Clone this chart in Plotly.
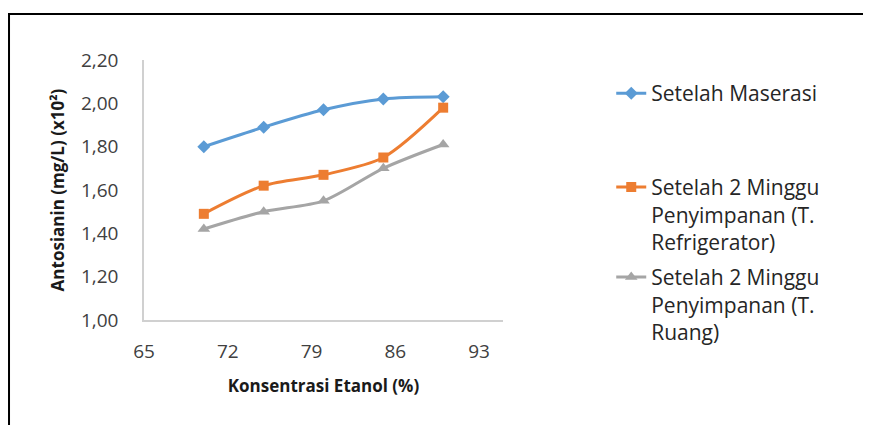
import plotly.graph_objects as go

konsentrasi = [70, 75, 80, 85, 90]
setelah_maserasi = [1.80, 1.89, 1.97, 2.02, 2.03]
refrigerator = [1.49, 1.62, 1.67, 1.75, 1.98]
ruang = [1.42, 1.50, 1.55, 1.70, 1.81]

names = [
    "Setelah Maserasi",
    "Setelah 2 Minggu<br>Penyimpanan (T.<br>Refrigerator)",
    "Setelah 2 Minggu<br>Penyimpanan (T.<br>Ruang)",
]
x_ticks = [65, 72, 79, 86, 93]
y_ticks = [1.0, 1.2, 1.4, 1.6, 1.8, 2.0, 2.2]

FONT = "Open Sans"
fig = go.Figure()
fig.add_trace(go.Scatter(x=konsentrasi, y=setelah_maserasi, name=names[0], mode="lines+markers",
                         line=dict(color="#5B9BD5", width=3, shape="spline", smoothing=0.8),
                         marker=dict(symbol="diamond", size=10, color="#5B9BD5"), legend="legend"))
fig.add_trace(go.Scatter(x=konsentrasi, y=refrigerator, name=names[1], mode="lines+markers",
                         line=dict(color="#ED7D31", width=3, shape="spline", smoothing=0.8),
                         marker=dict(symbol="square", size=10, color="#ED7D31"), legend="legend2"))
fig.add_trace(go.Scatter(x=konsentrasi, y=ruang, name=names[2], mode="lines+markers",
                         line=dict(color="#A5A5A5", width=3, shape="spline", smoothing=0.8),
                         marker=dict(symbol="triangle-up", size=11, color="#A5A5A5"), legend="legend3"))

legend_common = dict(font=dict(family=FONT, size=21, color="#262626"), bgcolor="rgba(0,0,0,0)",
                     xref="container", yref="container",
                     xanchor="left", yanchor="top", valign="top", borderwidth=0)

fig.update_layout(
    width=863, height=417,
    margin=dict(l=136, r=368, t=52, b=105, autoexpand=False),
    paper_bgcolor="white", plot_bgcolor="white",
    separators=", ",
    showlegend=True,
    font=dict(family=FONT, color="#404040"),
    legend=dict(x=0.699, y=0.844, **legend_common),
    legend2=dict(x=0.699, y=0.619, **legend_common),
    legend3=dict(x=0.699, y=0.403, **legend_common),
    xaxis=dict(range=[65, 95], tickvals=x_ticks, ticktext=[str(v) for v in x_ticks],
               showgrid=False, zeroline=False, showline=True, linecolor="#D0D0D0", linewidth=1.5,
               ticks="", tickfont=dict(size=19, color="#404040"), ticklabelstandoff=13, automargin=False,
               title=dict(text="<b>Konsentrasi Etanol (%)</b>", font=dict(size=17, color="#1a1a1a"), standoff=18)),
    yaxis=dict(range=[1.0, 2.2], tickvals=y_ticks, tickformat=".2f",
               showgrid=False, zeroline=False, showline=True, linecolor="#D0D0D0", linewidth=1.5,
               ticks="", tickfont=dict(size=19, color="#404040"), ticklabelstandoff=20, automargin=False,
               title=dict(text="<b>Antosianin (mg/L) (x10²)</b>", font=dict(size=17, color="#1a1a1a"), standoff=12)),
    shapes=[dict(type="rect", xref="paper", yref="paper", x0=-0.376, x1=2.5, y0=-1.0, y1=1.177,
                 line=dict(color="black", width=2), fillcolor="rgba(0,0,0,0)", layer="below")],
)

fig.write_html("out.html")
